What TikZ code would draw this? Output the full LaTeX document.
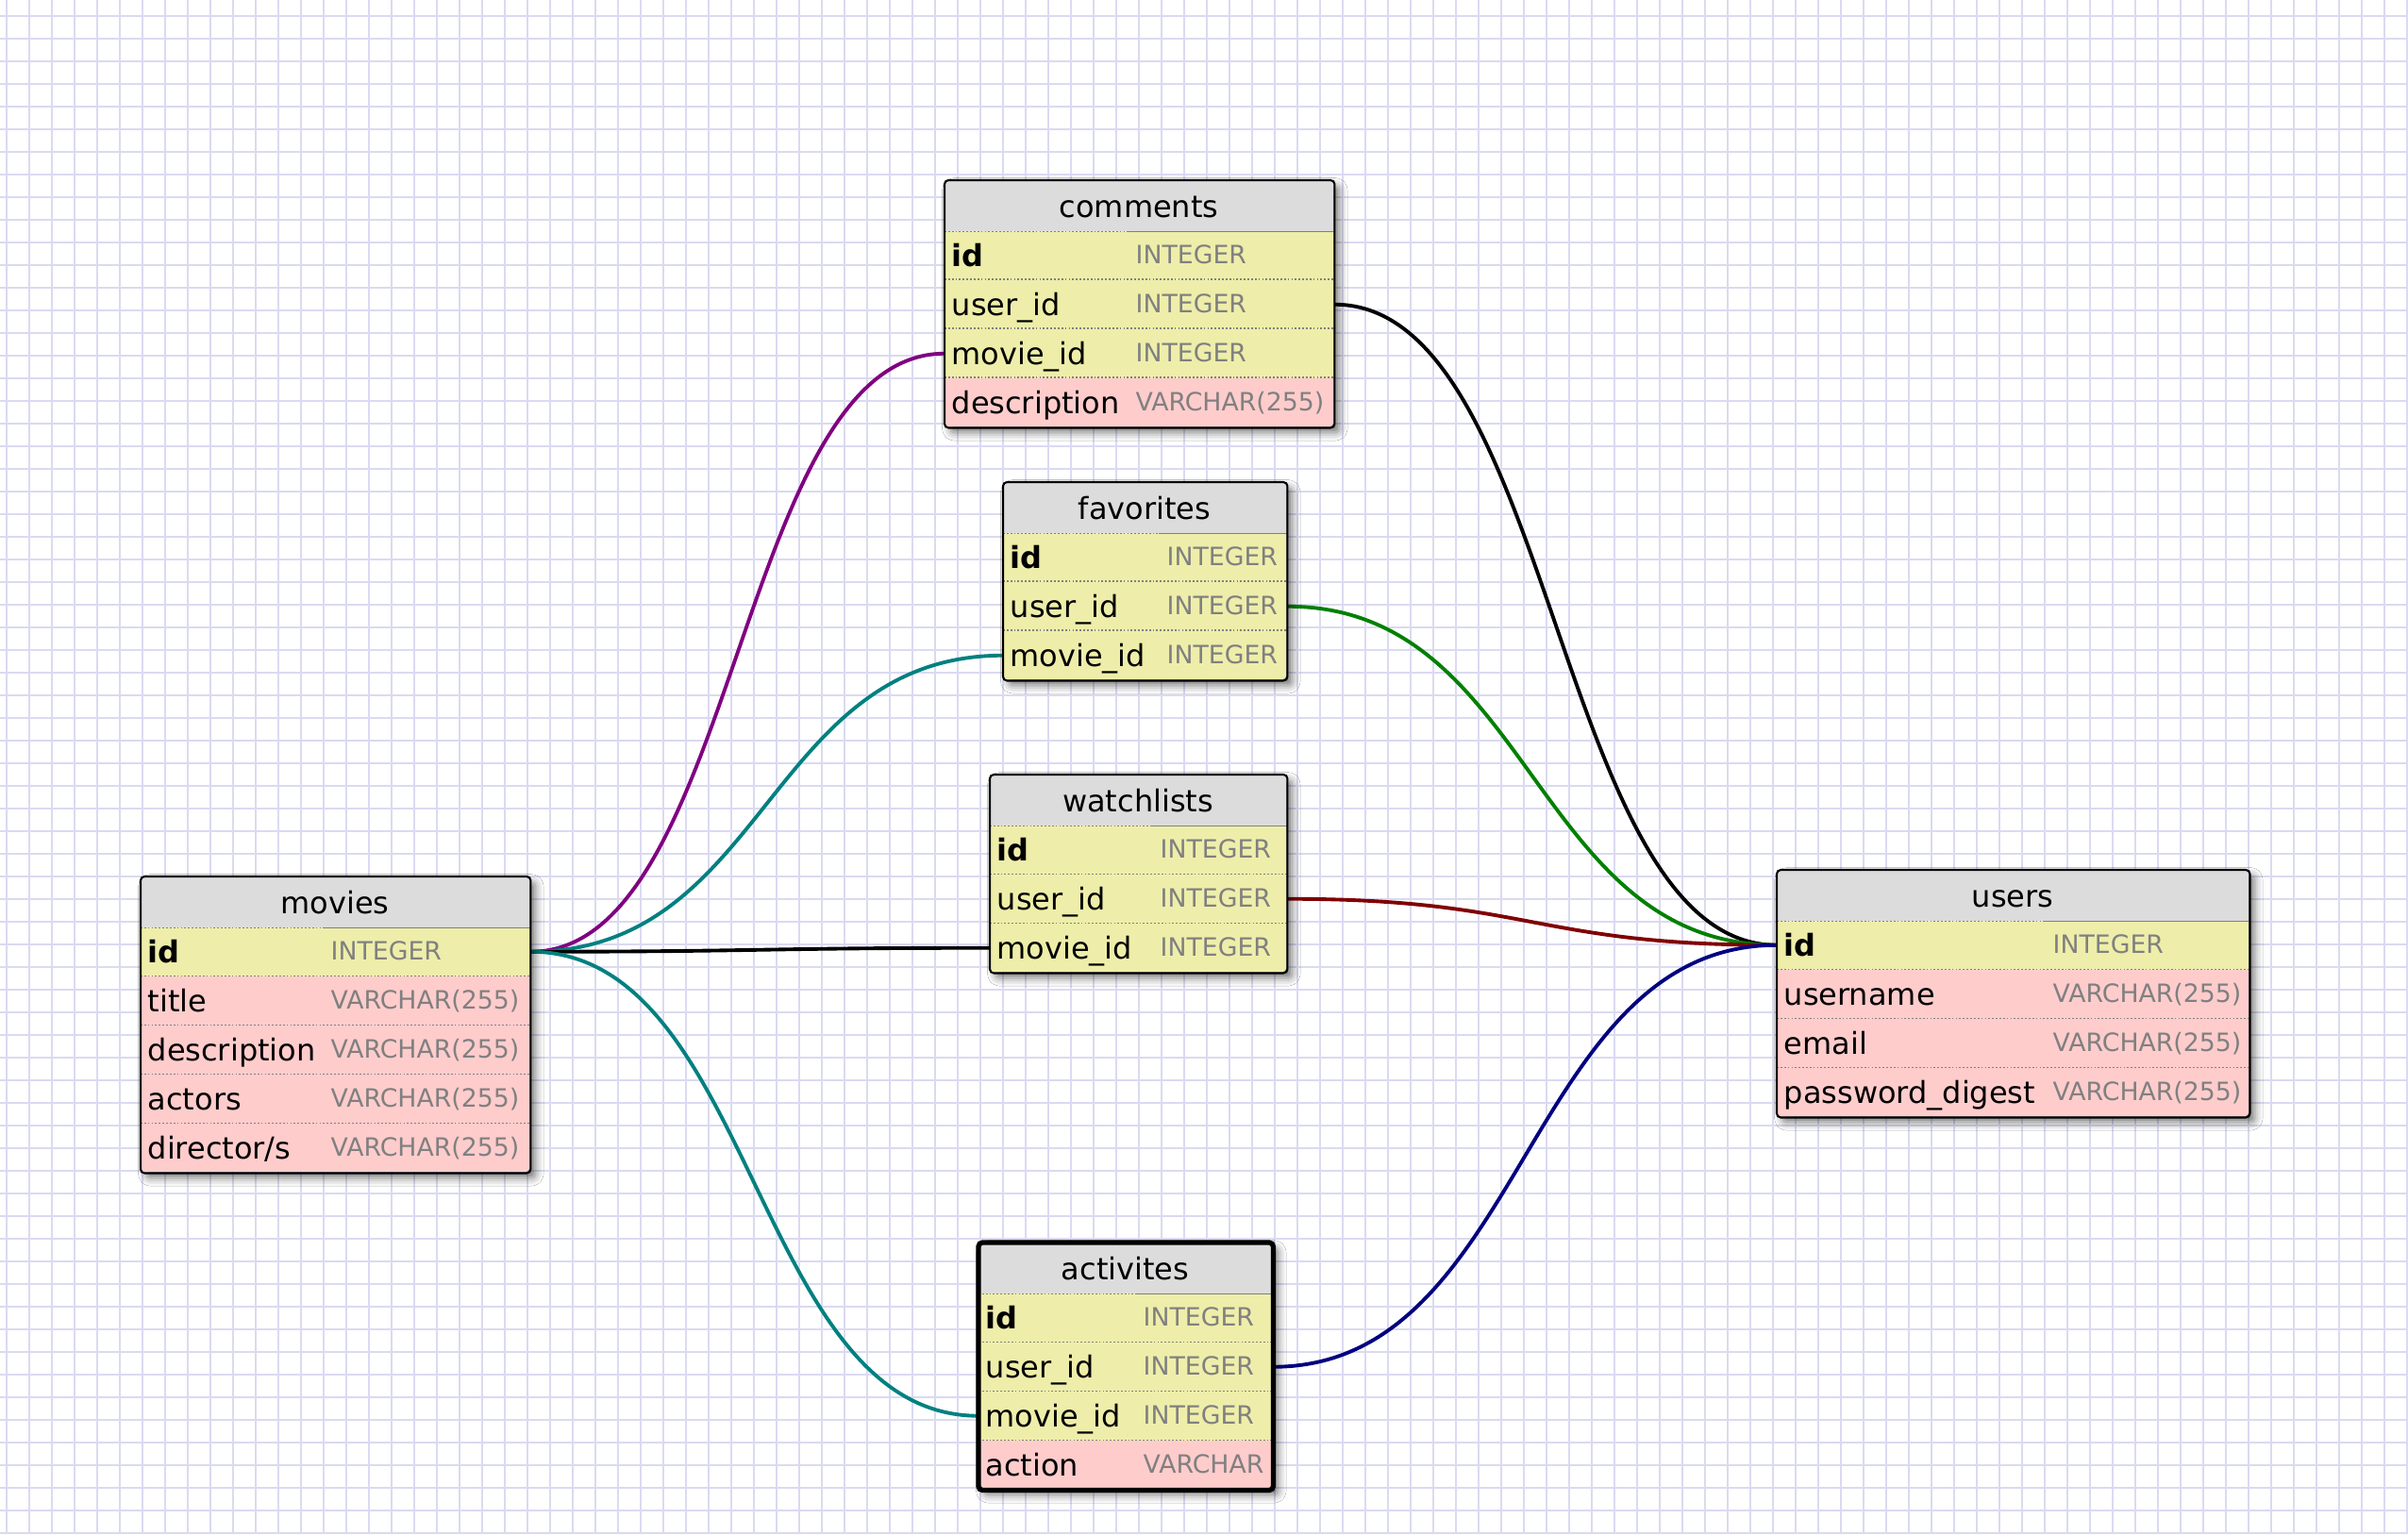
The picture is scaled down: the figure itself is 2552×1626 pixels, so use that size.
\documentclass[tikz,border=0pt]{standalone}
\usepackage{fontspec}
\setmainfont{DejaVu Sans}
\usetikzlibrary{calc, shadows.blur}

\definecolor{gridblue}{RGB}{218,218,242}
\definecolor{hdrgray}{RGB}{220,220,220}
\definecolor{keycol}{RGB}{238,238,170}
\definecolor{attrcol}{RGB}{255,204,204}
\definecolor{typegray}{RGB}{128,128,128}
\definecolor{relpurple}{RGB}{128,0,128}
\definecolor{relteal}{RGB}{0,128,128}
\definecolor{relgreen}{RGB}{0,128,0}
\definecolor{relred}{RGB}{128,0,0}
\definecolor{relnavy}{RGB}{0,0,128}

\pgfdeclarelayer{background}
\pgfsetlayers{background,main}

\tikzset{
  gridline/.style={draw=gridblue, line width=0.8pt},
  tblhead/.style={anchor=north west, fill=hdrgray, inner sep=0pt, minimum height=0.53cm},
  rowbox/.style={anchor=north west, inner sep=0pt, minimum height=0.52cm},
  tbltitle/.style={anchor=base, inner sep=0pt, font=\fontsize{9.1}{11}\selectfont},
  fieldname/.style={anchor=base west, inner sep=0pt, font=\fontsize{9.1}{11}\selectfont},
  fieldtype/.style={anchor=base west, inner sep=0pt, text=typegray, font=\fontsize{7.6}{9}\selectfont},
  rowsep/.style={draw=typegray, line width=0.3pt, dash pattern=on 0.5pt off 0.6pt},
  tblframe/.style={draw=black, line width=0.6pt, rounded corners=1.2pt},
  tblshadow/.style={fill=white, rounded corners=1.2pt,
    blur shadow={shadow xshift=1.8pt, shadow yshift=-1.8pt, shadow blur radius=2.5pt, shadow opacity=55}},
  rel/.style={draw=#1, line width=1.1pt},
  hbez/.style={to path={let \p1=(\tikztostart), \p2=(\tikztotarget) in
    .. controls ({(\x1+\x2)/2},\y1) and ({(\x1+\x2)/2},\y2) .. (\tikztotarget)}},
}

% #1 frame style, #2 name, #3 x, #4 y, #5 width, #6 type column, #7 rows, #8 fields
\newcommand{\dbtable}[8][]{%
  \fill[tblshadow] (#3,#4) rectangle ++(#5,{53+52*#7});
  \begin{scope}
    \clip[rounded corners=1.2pt] (#3,#4) rectangle ++(#5,{53+52*#7});
    \node[tblhead, minimum width=#5*0.01cm] (#2) at (#3,#4) {};
    \node[tbltitle] (#2-title) at ({#3+#5/2},{#4+39}) {#2};
    \foreach \fn/\ty/\cl [count=\i] in {#8} {
      \node[rowbox, fill=\cl, minimum width=#5*0.01cm] (#2-\i) at (#3,{#4+1+52*\i}) {};
      \node[fieldname] (#2-\i-f) at ($(#2-\i.north west)+(7,38)$) {\ifnum\i=1 \bfseries\fi\fn};
      \node[fieldtype] (#2-\i-t) at ($(#2-\i.north west)+(#6,35)$) {\ty};
      \ifnum\i>1 \draw[rowsep] (#2-\i.north west) -- (#2-\i.north east); \fi
    }
  \end{scope}
  \draw[rowsep] (#2.south west) -- ++({#6-8},0);
  \draw[draw=typegray, line width=0.3pt] ($(#2.south west)+({#6-8},0)$) -- (#2.south east);
  \draw[tblframe, #1] (#2.north west) rectangle (#2-#7.south east);
}

\begin{document}
\begin{tikzpicture}[x=0.01cm, y=-0.01cm]
  \useasboundingbox (0,0) rectangle (2552,1626);

  % tables
  \dbtable{comments}{1001}{191}{412}{202}{4}{id/INTEGER/keycol, user\_id/INTEGER/keycol,
    movie\_id/INTEGER/keycol, description/VARCHAR(255)/attrcol}
  \dbtable{favorites}{1063}{511}{300}{173}{3}{id/INTEGER/keycol, user\_id/INTEGER/keycol,
    movie\_id/INTEGER/keycol}
  \dbtable{watchlists}{1049}{821}{314}{180}{3}{id/INTEGER/keycol, user\_id/INTEGER/keycol,
    movie\_id/INTEGER/keycol}
  \dbtable{movies}{149}{929}{412}{201}{5}{id/INTEGER/keycol, title/VARCHAR(255)/attrcol,
    description/VARCHAR(255)/attrcol, actors/VARCHAR(255)/attrcol, {director/s}/VARCHAR(255)/attrcol}
  \dbtable{users}{1883}{922}{500}{292}{4}{id/INTEGER/keycol, username/VARCHAR(255)/attrcol,
    email/VARCHAR(255)/attrcol, password\_digest/VARCHAR(255)/attrcol}
  \dbtable[line width=1.5pt]{activites}{1037}{1317}{311}{174}{4}{id/INTEGER/keycol,
    user\_id/INTEGER/keycol, movie\_id/INTEGER/keycol, action/VARCHAR/attrcol}

  \begin{pgfonlayer}{background}
    \fill[white] (0,0) rectangle (2552,1626);
    \foreach \gx in {7,31,...,2551} \draw[gridline] (\gx,0) -- (\gx,1626);
    \foreach \gy in {17,41,...,1625} \draw[gridline] (0,\gy) -- (2552,\gy);

    % relations
    \draw[rel=relpurple] (movies-1.east) to[hbez] (comments-3.west);
    \draw[rel=relteal] (movies-1.east) to[hbez] (favorites-3.west);
    \draw[rel=black] (movies-1.east) to[hbez] (watchlists-3.west);
    \draw[rel=relteal] (movies-1.east) to[hbez] (activites-3.west);
    \draw[rel=black] (comments-2.east) to[hbez] (users-1.west);
    \draw[rel=relgreen] (favorites-2.east) to[hbez] (users-1.west);
    \draw[rel=relred] (watchlists-2.east) to[hbez] (users-1.west);
    \draw[rel=relnavy] (activites-2.east) to[hbez] (users-1.west);
  \end{pgfonlayer}
\end{tikzpicture}
\end{document}
